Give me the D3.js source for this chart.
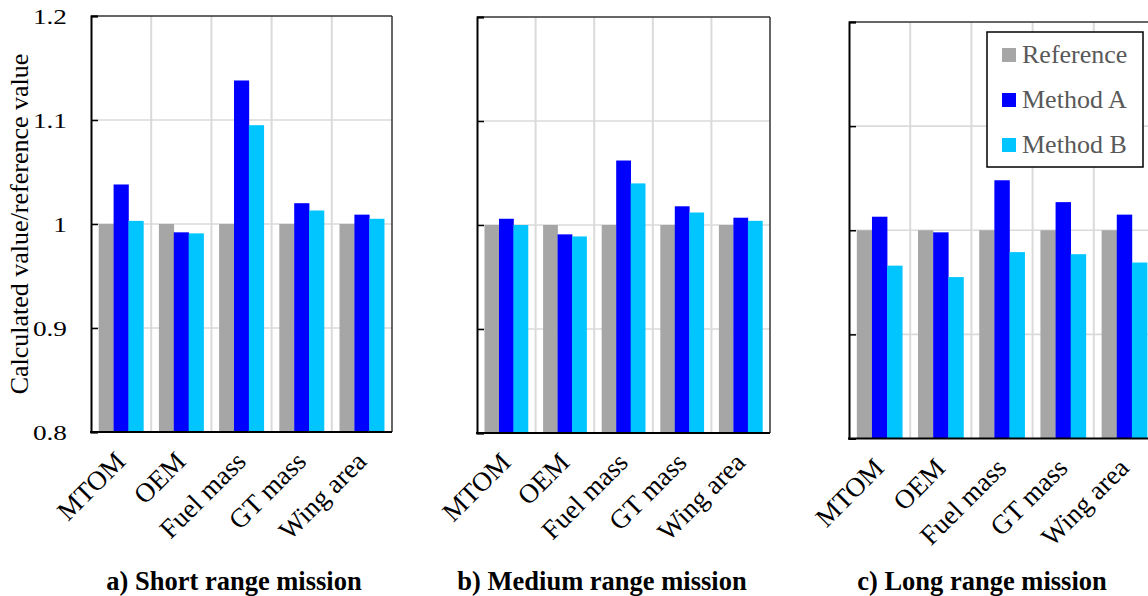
<!DOCTYPE html>
<html>
<head>
<meta charset="utf-8">
<script src="https://cdn.jsdelivr.net/npm/d3@7"></script>
<style>
  html, body { margin: 0; padding: 0; background: #fff; }
  svg { display: block; }
  text { font-family: "Liberation Serif", "Times New Roman", serif; }
</style>
</head>
<body>
<svg id="chart" width="1148" height="596"></svg>
<script>
// ---- data ----
const categories = ["MTOM", "OEM", "Fuel mass", "GT mass", "Wing area"];
const seriesNames = ["Reference", "Method A", "Method B"];
const panelTitles = ["a) Short range mission", "b) Medium range mission", "c) Long range mission"];

const shortReference = [1, 1, 1, 1, 1];
const shortMethodA   = [1.038, 0.992, 1.138, 1.020, 1.009];
const shortMethodB   = [1.003, 0.991, 1.095, 1.013, 1.005];

const mediumReference = [1, 1, 1, 1, 1];
const mediumMethodA   = [1.006, 0.991, 1.062, 1.018, 1.007];
const mediumMethodB   = [1.000, 0.989, 1.040, 1.012, 1.004];

const longReference = [1, 1, 1, 1, 1];
const longMethodA   = [1.013, 0.998, 1.048, 1.027, 1.015];
const longMethodB   = [0.966, 0.955, 0.979, 0.977, 0.969];

const yTickValues = [0.8, 0.9, 1.0, 1.1, 1.2];
const yTickLabels = ["0.8", "0.9", "1", "1.1", "1.2"];
const yAxisTitle = "Calculated value/reference value";

// ---- styles / layout ----
const colors = ["#a6a6a6", "#0000ff", "#00c5ff"];
const panelData = [
  [shortReference, shortMethodA, shortMethodB],
  [mediumReference, mediumMethodA, mediumMethodB],
  [longReference, longMethodA, longMethodB]
];
const layout = [
  { x0: 91,  x1: 392,  y0: 16, y1: 432,   titleX: 234, labels: true },
  { x0: 477, x1: 770,  y0: 17, y1: 433,   titleX: 602, labels: false },
  { x0: 849, x1: 1155, y0: 22, y1: 438.5, titleX: 982, labels: false }
];

const svg = d3.select("#chart");
svg.append("rect").attr("width", 1148).attr("height", 596).attr("fill", "#fff");

layout.forEach((L, pi) => {
  const g = svg.append("g");
  const x = d3.scaleBand().domain(categories).range([L.x0, L.x1]).padding(0);
  const bw = x.bandwidth();
  const xs = d3.scaleBand().domain(seriesNames).range([0.128 * bw, 0.87 * bw]).padding(0);
  const y = d3.scaleLinear().domain([0.8, 1.2]).range([L.y1, L.y0]);

  // gridlines
  g.selectAll(".hgrid").data(yTickValues.slice(1, -1)).join("line")
    .attr("x1", L.x0).attr("x2", L.x1)
    .attr("y1", d => y(d)).attr("y2", d => y(d))
    .attr("stroke", "#dadada").attr("stroke-width", 1.6);
  g.selectAll(".vgrid").data(categories.slice(1)).join("line")
    .attr("x1", d => x(d)).attr("x2", d => x(d))
    .attr("y1", L.y0).attr("y2", L.y1)
    .attr("stroke", "#dadada").attr("stroke-width", 2);

  // bars
  const rows = [];
  categories.forEach((c, ci) => {
    seriesNames.forEach((s, si) => {
      rows.push({ c, s, si, v: panelData[pi][si][ci] });
    });
  });
  g.selectAll(".bar").data(rows).join("rect")
    .attr("x", d => x(d.c) + xs(d.s))
    .attr("y", d => y(d.v))
    .attr("width", xs.bandwidth() + 0.3)
    .attr("height", d => L.y1 - y(d.v))
    .attr("fill", d => colors[d.si]);

  // frame
  g.append("line").attr("x1", L.x0).attr("x2", L.x1).attr("y1", L.y0).attr("y2", L.y0)
    .attr("stroke", "#333").attr("stroke-width", 1.5);
  g.append("line").attr("x1", L.x1).attr("x2", L.x1).attr("y1", L.y0).attr("y2", L.y1)
    .attr("stroke", "#333").attr("stroke-width", 1.5);

  // left axis with inward ticks
  const axis = d3.axisLeft(y).tickValues(yTickValues).tickSize(-7).tickFormat("");
  const ag = g.append("g").attr("transform", `translate(${L.x0},0)`).call(axis);
  ag.select(".domain").attr("stroke", "#000").attr("stroke-width", 2);
  ag.selectAll(".tick line").attr("stroke", "#000").attr("stroke-width", 1.5);

  g.append("line").attr("x1", L.x0 - 1).attr("x2", L.x1).attr("y1", L.y1).attr("y2", L.y1)
    .attr("stroke", "#000").attr("stroke-width", 2);

  if (L.labels) {
    g.selectAll(".ylab").data(yTickValues).join("text")
      .attr("transform", (d) => `translate(67,${y(d)}) scale(1.3,1)`)
      .attr("dy", "0.4em")
      .attr("text-anchor", "end")
      .attr("font-size", 21)
      .attr("fill", "#000")
      .text((d, i) => yTickLabels[i]);
  }

  // x category labels
  g.selectAll(".xlab").data(categories).join("text")
    .attr("transform", d => `translate(${x(d) + bw / 2 + 6},${L.y1 + 31}) rotate(-45)`)
    .attr("text-anchor", "end")
    .attr("font-size", 27)
    .attr("fill", "#000")
    .text(d => d);

  // panel title
  svg.append("text")
    .attr("x", L.titleX).attr("y", 590)
    .attr("text-anchor", "middle")
    .attr("font-size", 26.5)
    .attr("font-weight", "bold")
    .attr("fill", "#000")
    .text(panelTitles[pi]);
});

// y axis title
svg.append("text")
  .attr("transform", "translate(28,224) rotate(-90)")
  .attr("text-anchor", "middle")
  .attr("font-size", 26)
  .attr("fill", "#000")
  .text(yAxisTitle);

// legend
const lg = svg.append("g");
lg.append("rect").attr("x", 987).attr("y", 32).attr("width", 156).attr("height", 135)
  .attr("fill", "#fff").attr("stroke", "#000").attr("stroke-width", 1.5);
const legendItems = lg.selectAll(".li").data(seriesNames).join("g")
  .attr("transform", (d, i) => `translate(1002,${48 + i * 45})`);
legendItems.append("rect").attr("width", 14).attr("height", 14)
  .attr("fill", (d, i) => colors[i]);
legendItems.append("text").attr("x", 20).attr("y", 14.5)
  .attr("font-size", 26).attr("fill", "#595959")
  .text(d => d);
</script>
</body>
</html>
